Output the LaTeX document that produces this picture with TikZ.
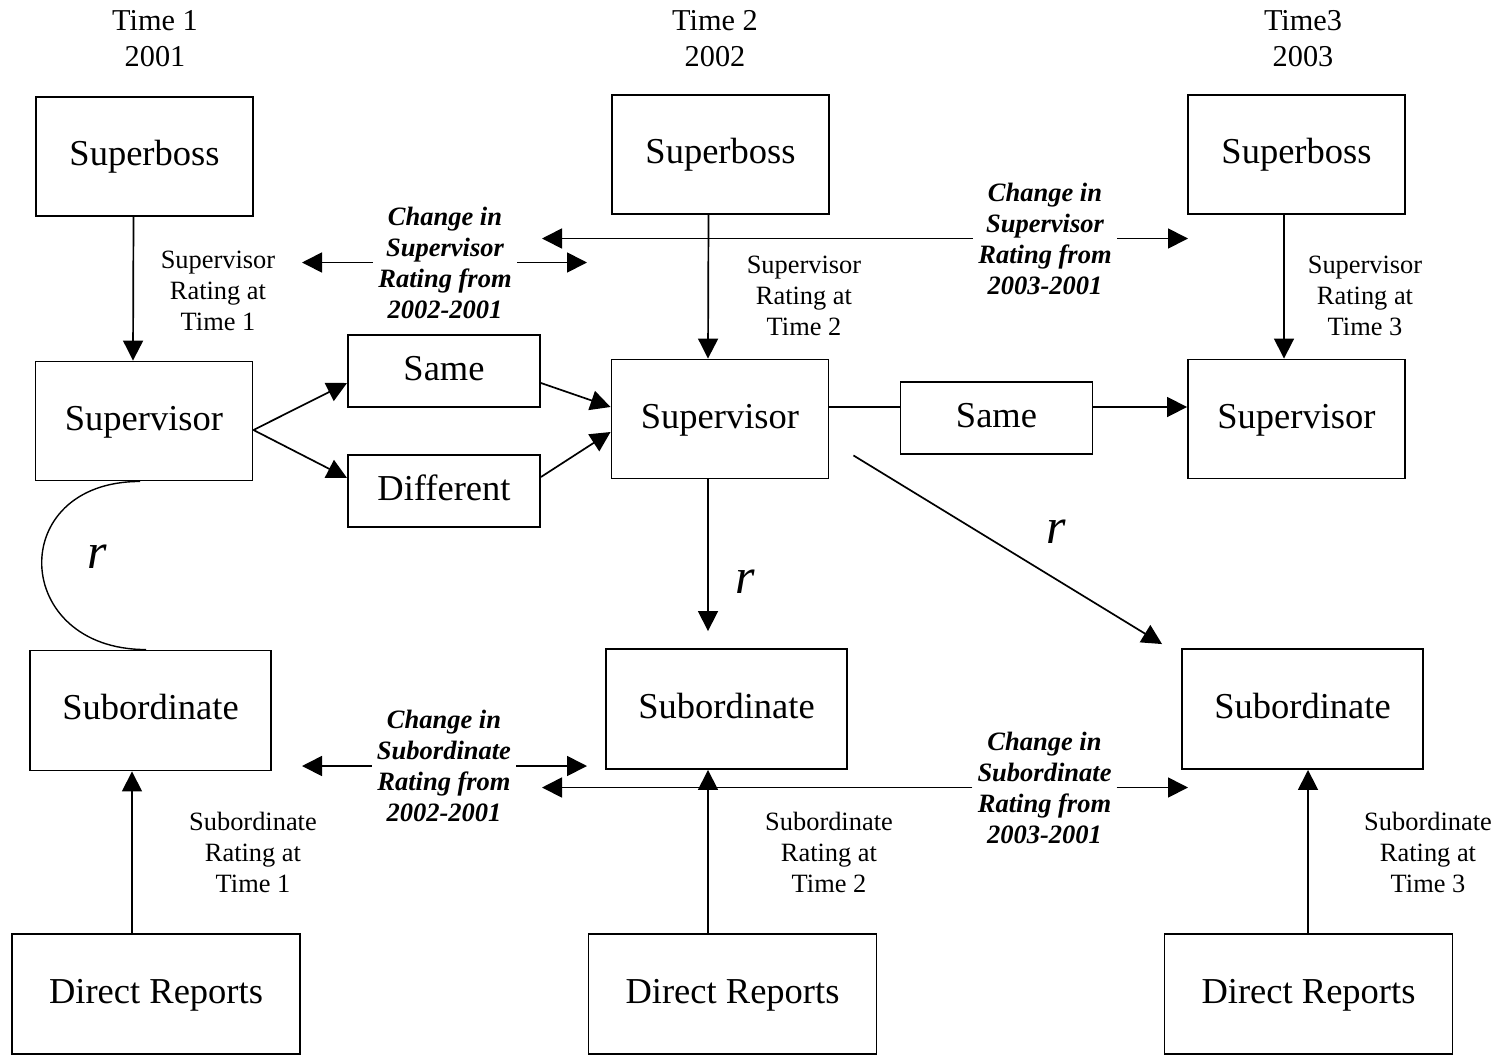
\documentclass[tikz,border=0pt]{standalone}
\usepackage{fontspec}
\setmainfont{Liberation Serif}
\usepackage{tikz}
\usetikzlibrary{arrows.meta}

\tikzset{
  pbox/.style    = {draw, line width=1.9pt, inner sep=0pt, text height=26pt, text depth=8pt,
                    font=\fontsize{36.5}{40}\selectfont},
  bossbox/.style = {pbox, minimum width=217pt, minimum height=119pt},
  subbox/.style  = {pbox, minimum width=241pt, minimum height=120pt},
  drbox/.style   = {pbox, minimum width=288pt, minimum height=120pt},
  midbox/.style  = {pbox, minimum width=192pt, minimum height=72pt},
  hdr/.style     = {align=center, inner sep=0pt, font=\fontsize{30.3}{36}\selectfont},
  rate/.style    = {align=center, inner sep=0pt, font=\fontsize{26.4}{31}\selectfont},
  chg/.style     = {align=center, inner sep=0pt, minimum width=144pt,
                    font=\fontsize{26.5}{31}\selectfont\bfseries\itshape},
  rr/.style      = {inner sep=0pt, font=\fontsize{50}{50}\selectfont\itshape},
  arr/.style     = {line width=1.7pt, -{Triangle[length=20pt,width=20pt]}},
  ln/.style      = {line width=1.7pt},
}

\begin{document}
\begin{tikzpicture}[x=1pt, y=-1pt]
        \useasboundingbox (0,0) rectangle (1503,1055);

        \node[hdr] (t1) at (155,39)  {Time 1\\2001};                  %T1
        \node[hdr] (t2) at (715,39)  {Time 2\\2002};                  %T2
        \node[hdr] (t3) at (1303,39) {Time3\\2003};                   %T3

        \node[bossbox] (sb1)   at (144.5,156.5)  {Superboss};          %
        \node[bossbox] (sb2)   at (720.5,154.5)  {Superboss};          %
        \node[bossbox] (sb3)   at (1296.5,154.5) {Superboss};          %
        \node[bossbox] (sv1)   at (144,421)      {Supervisor};         %
        \node[bossbox] (sv2)   at (720,419)      {Supervisor};         %
        \node[bossbox] (sv3)   at (1296.5,419)   {Supervisor};         %
        \node[midbox]  (same1) at (444,371)      {Same};               %
        \node[midbox]  (diff1) at (444,491)      {Different};          %
        \node[midbox]  (same2) at (996.5,418)    {Same};               %
        \node[subbox]  (sub1)  at (150.5,710.5)  {Subordinate};        %
        \node[subbox]  (sub2)  at (726.5,709)    {Subordinate};        %
        \node[subbox]  (sub3)  at (1302.5,709)   {Subordinate};        %
        \node[drbox]   (dr1)   at (156,994)      {Direct Reports};     %
        \node[drbox]   (dr2)   at (732.5,994)    {Direct Reports};     %
        \node[drbox]   (dr3)   at (1308.5,994)   {Direct Reports};     %

        \node[rate] (rsv1) at (218,291)  {Supervisor\\Rating at\\Time 1};   %
        \node[rate] (rsv2) at (804,296)  {Supervisor\\Rating at\\Time 2};   %
        \node[rate] (rsv3) at (1365,296) {Supervisor\\Rating at\\Time 3};   %
        \node[rate] (rsb1) at (253,852)  {Subordinate\\Rating at\\Time 1};  %
        \node[rate] (rsb2) at (829,852)  {Subordinate\\Rating at\\Time 2};  %
        \node[rate] (rsb3) at (1428,852) {Subordinate\\Rating at\\Time 3};  %

        \node[chg] (chgsv1) at (445,262.5)    {Change in\\Supervisor\\Rating from\\2002-2001};   %
        \node[chg] (chgsv2) at (1045,238.5)   {Change in\\Supervisor\\Rating from\\2003-2001};   %
        \node[chg] (chgsb1) at (444,766)      {Change in\\Subordinate\\Rating from\\2002-2001};  %
        \node[chg] (chgsb2) at (1044.5,787.5) {Change in\\Subordinate\\Rating from\\2003-2001};  %

        \node[rr] (r1) at (97,557)   {r};                             %
        \node[rr] (r2) at (745,582)  {r};                             %
        \node[rr] (r3) at (1056,532) {r};                             %

        \coordinate (svL1) at (302,262.5);  \coordinate (svR1) at (587,262.5);
        \coordinate (svL2) at (542,238.5);  \coordinate (svR2) at (1188,238.5);
        \coordinate (sbL1) at (302,766);    \coordinate (sbR1) at (587,766);
        \coordinate (sbL2) at (542,787.5);  \coordinate (sbR2) at (1188,787.5);

        \draw[arr] ([xshift=-11pt]sb1.south)   -- ([xshift=-11pt]sv1.north);    %
        \draw[arr] ([xshift=-12pt]sb2.south)   -- ([xshift=-12pt]sv2.north);    %
        \draw[arr] ([xshift=-12.5pt]sb3.south) -- ([xshift=-12.5pt]sv3.north);  %

        \draw[arr] ([yshift=-9pt]sv1.east)     -- ([yshift=-12pt]same1.west);   %
        \draw[arr] ([yshift=-9pt]sv1.east)     -- ([yshift=13pt]diff1.west);    %
        \draw[arr] ([yshift=-12pt]same1.east)  -- ([yshift=12pt]sv2.west);      %
        \draw[arr] ([yshift=14pt]diff1.east)   -- ([yshift=-13pt]sv2.west);     %
        \draw[ln]  ([yshift=12pt]sv2.east)     -- ([yshift=11pt]same2.west);    %
        \draw[arr] ([yshift=11pt]same2.east)   -- ([yshift=12pt]sv3.west);      %

        \draw[arr] ([xshift=-12pt]sv2.south)   -- ([xshift=-18.5pt,yshift=17pt]sub2.north);  %r
        \draw[arr] ([xshift=24pt,yshift=24pt]sv2.south east)
                                               -- ([xshift=-19pt,yshift=4pt]sub3.north west); %r
        \draw[line width=1.4pt] ([xshift=-4pt]sv1.south)
                .. controls +(-135,0) and +(-135,0) .. ([xshift=-4.5pt]sub1.north);        %r

        \draw[arr] ([xshift=-24pt]dr1.north)   -- ([xshift=-18.5pt]sub1.south);  %
        \draw[arr] ([xshift=-24.5pt]dr2.north) -- ([xshift=-18.5pt]sub2.south);  %
        \draw[arr] ([xshift=-0.5pt]dr3.north)  -- ([xshift=5.5pt]sub3.south);    %

        \draw[arr] (chgsv1.west) -- (svL1);   \draw[arr] (chgsv1.east) -- (svR1);
        \draw[arr] (chgsv2.west) -- (svL2);   \draw[arr] (chgsv2.east) -- (svR2);
        \draw[arr] (chgsb1.west) -- (sbL1);   \draw[arr] (chgsb1.east) -- (sbR1);
        \draw[arr] (chgsb2.west) -- (sbL2);   \draw[arr] (chgsb2.east) -- (sbR2);
\end{tikzpicture}
\end{document}
